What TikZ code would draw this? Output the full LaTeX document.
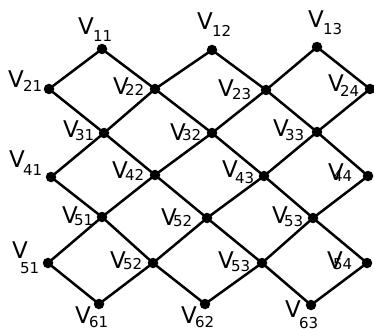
\documentclass[tikz,border=0pt]{standalone}
\usepackage{fontspec}
\setmainfont{DejaVu Sans}
\begin{document}
\begin{tikzpicture}[x=1pt,y=-1pt,
  dot/.style={circle,fill=black,inner sep=0pt,minimum size=10.5pt},
  edge/.style={line width=2.5pt,black},
  vtxt/.style={anchor=base west,inner sep=0pt,font=\fontsize{23}{23}\selectfont},
  stxt/.style={anchor=base west,inner sep=0pt,font=\fontsize{15}{15}\selectfont}]
\useasboundingbox (0,0) rectangle (374,331);
% label macro: name, x, y, subscript, dx, dy
\newcommand\vlab[6]{%
  \node[vtxt] (l#1) at (#2,#3) {V};
  \node[stxt] (s#1) at ({#2+#5},{#3+#6}) {#4};}
% vertices
\node[dot] (a11) at (102,49) {};
\node[dot] (a12) at (212,50) {};
\node[dot] (a13) at (317,47) {};
\node[dot] (a21) at (49,89) {};
\node[dot] (a22) at (155,89) {};
\node[dot] (a23) at (266,90) {};
\node[dot] (a24) at (370,89) {};
\node[dot] (a31) at (104,133) {};
\node[dot] (a32) at (212,133) {};
\node[dot] (a33) at (317,132) {};
\node[dot] (a41) at (51,177) {};
\node[dot] (a42) at (155,175) {};
\node[dot] (a43) at (264,176) {};
\node[dot] (a44) at (368,176) {};
\node[dot] (a51) at (102,217) {};
\node[dot] (a52) at (207,218) {};
\node[dot] (a53) at (313,218) {};
\node[dot] (b51) at (48,263) {};
\node[dot] (b52) at (153,263) {};
\node[dot] (b53) at (262,263) {};
\node[dot] (b54) at (367,263) {};
\node[dot] (a61) at (99,304) {};
\node[dot] (a62) at (205,304) {};
\node[dot] (a63) at (311,305) {};
% edges
\foreach \p/\q in {a11/a21,a11/a22,a12/a22,a12/a23,a13/a23,a13/a24,
  a21/a31,a22/a31,a22/a32,a23/a32,a23/a33,a24/a33,
  a31/a41,a31/a42,a32/a42,a32/a43,a33/a43,a33/a44,
  a41/a51,a42/a51,a42/a52,a43/a52,a43/a53,a44/a53,
  a51/b51,a51/b52,a52/b52,a52/b53,a53/b53,a53/b54,
  b51/a61,b52/a61,b52/a62,b53/a62,b53/a63,b54/a63}
  \draw[edge] (\p.center) -- (\q.center);
% labels
\vlab{11}{78}{35}{11}{15}{7}
\vlab{12}{197}{30}{12}{15}{7}
\vlab{13}{308}{28}{13}{15}{7}
\vlab{21}{8}{88}{21}{15}{4}
\vlab{22}{113}{95}{22}{12}{1}
\vlab{23}{218}{97}{23}{14}{3}
\vlab{24}{328}{92}{24}{12}{5}
\vlab{31}{63}{138}{31}{12}{3}
\vlab{32}{170}{140}{32}{12}{1}
\vlab{33}{273}{137}{33}{12}{3}
\vlab{41}{9}{167}{41}{14}{8}
\vlab{42}{112}{178}{42}{13}{2}
\vlab{43}{222}{177}{43}{13}{6}
\vlab{44}{328}{180}{44}{5}{1}
\vlab{51}{62}{223}{51}{12}{2}
\vlab{52}{161}{225}{52}{12}{1}
\vlab{53}{272}{223}{53}{12}{3}
\vlab{b51}{12}{258}{51}{8}{15}
\vlab{b52}{110}{268}{52}{13}{1}
\vlab{b53}{218}{268}{53}{13}{3}
\vlab{b54}{327}{268}{54}{6}{1}
\vlab{61}{75}{323}{61}{14}{4}
\vlab{62}{181}{323}{62}{14}{4}
\vlab{63}{285}{317}{63}{14}{11}
\end{tikzpicture}
\end{document}
